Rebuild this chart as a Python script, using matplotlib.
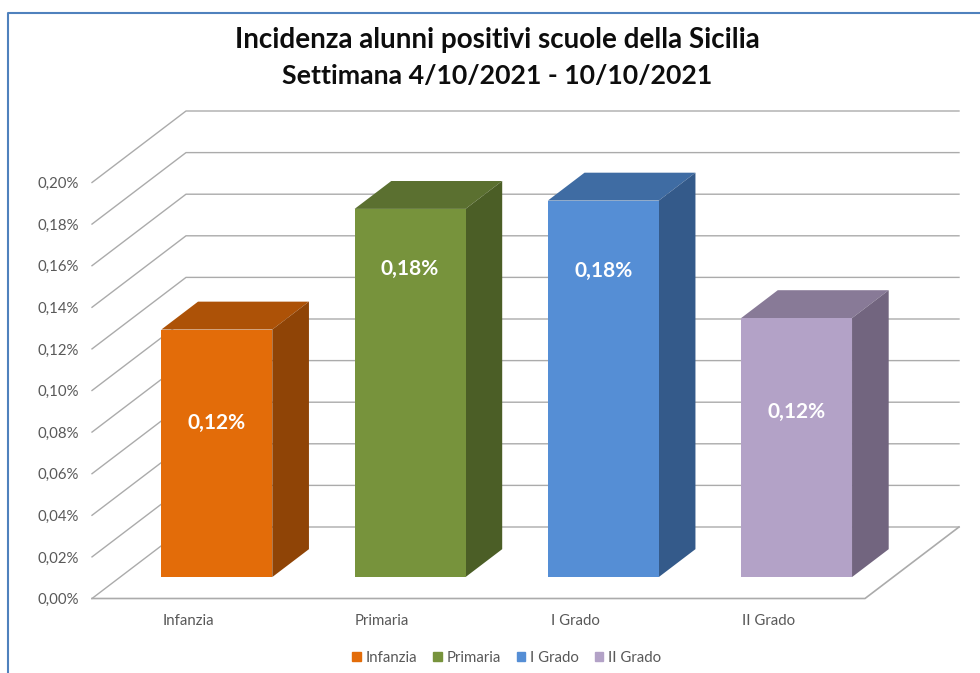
import matplotlib as mpl
mpl.use('Agg')

import matplotlib.pyplot as plt
from matplotlib.lines import Line2D
from matplotlib.patches import Patch

categories = ['Infanzia', 'Primaria', 'I Grado', 'II Grado']
values = [0.119, 0.177, 0.181, 0.1245]
value_labels = ['0,12%', '0,18%', '0,18%', '0,12%']
y_ticks = [0.00, 0.02, 0.04, 0.06, 0.08, 0.10, 0.12, 0.14, 0.16, 0.18, 0.20]
y_tick_labels = ['0,00%', '0,02%', '0,04%', '0,06%', '0,08%', '0,10%',
                 '0,12%', '0,14%', '0,16%', '0,18%', '0,20%']

front_colors = ['#E36C09', '#77933C', '#558ED5', '#B3A2C7']
top_colors = ['#AD5207', '#5B7030', '#3F6CA3', '#887A97']
side_colors = ['#8F4406', '#4B5E26', '#345A8A', '#72657F']

plt.rcParams['font.family'] = ['Lato', 'DejaVu Sans']

W, H = 980, 673
fig = plt.figure(figsize=(W / 100, H / 100), dpi=100)
ax = fig.add_axes([92 / W, (H - 598.5) / H, 868 / W, 487.5 / H])

# oblique projection: depth 0 is the front of the floor, depth 1 the back wall
depth_x = 94 / 193.25
depth_y = 0.2 * 71.5 / 416
ax.set_xlim(0, 868 / 193.25)
ax.set_ylim(0, 0.2 + depth_y)
n = len(categories)


def proj(x, v, d):
    return x + d * depth_x, v + d * depth_y


def face(points, color, z):
    xs, ys = zip(*[proj(*p) for p in points])
    ax.fill(xs, ys, color=color, lw=0, zorder=z, clip_on=False)


# walls and floor
grid = '#ababab'
for t in y_ticks:
    x0, y0 = proj(0, t, 0)
    x1, y1 = proj(0, t, 1)
    x2, y2 = proj(n, t, 1)
    ax.plot([x0, x1, x2], [y0, y1, y2], color=grid, lw=1.0, zorder=1, clip_on=False)
x0, y0 = proj(n, 0, 0)
x1, y1 = proj(n, 0, 1)
ax.plot([0, x0, x1], [0, y0, y1], color=grid, lw=1.2, zorder=1, clip_on=False)

# bars
gap = 0.213
d0, d1 = 0.30, 0.69
label_drop = [0.045, 0.029, 0.034, 0.045]
for i, v in enumerate(values):
    l, r = i + gap, i + 1 - gap
    face([(l, 0, d0), (r, 0, d0), (r, v, d0), (l, v, d0)], front_colors[i], 4)
    face([(l, v, d0), (r, v, d0), (r, v, d1), (l, v, d1)], top_colors[i], 3)
    face([(r, 0, d0), (r, 0, d1), (r, v, d1), (r, v, d0)], side_colors[i], 3)
    tx, ty = proj(i + 0.5, v - label_drop[i], d0)
    ax.text(tx, ty, value_labels[i], color='white', fontsize=15, fontweight='bold',
            ha='center', va='center', zorder=5)

ax.set_yticks(y_ticks)
ax.set_yticklabels(y_tick_labels)
ax.set_xticks([i + 0.5 for i in range(n)])
ax.set_xticklabels(categories)
ax.tick_params(axis='y', length=0, pad=9.2, labelsize=10.8, labelcolor='#595959')
ax.tick_params(axis='x', length=0, pad=11.4, labelsize=10.8, labelcolor='#595959')
for s in ax.spines.values():
    s.set_visible(False)
ax.patch.set_alpha(0)

fig.text(497 / W, (H - 40) / H, 'Incidenza alunni positivi scuole della Sicilia',
         ha='center', va='center', fontsize=20, fontweight='bold', color='#0d0d0d')
fig.text(497 / W, (H - 76) / H, 'Settimana 4/10/2021 - 10/10/2021',
         ha='center', va='center', fontsize=19.2, fontweight='bold', color='#0d0d0d')

handles = [Patch(color=c, label=k) for c, k in zip(front_colors, categories)]
fig.legend(handles=handles, ncol=4, loc='center', bbox_to_anchor=(507 / W, (H - 658) / H),
           frameon=False, fontsize=10.8, labelcolor='#595959', handlelength=0.55, handleheight=0.55,
           handletextpad=0.35, columnspacing=1.05)

# chart frame, cut off by the image on the right and at the bottom
frame = '#4F81BD'
fig.add_artist(Line2D([8 / W, 8 / W, 1], [0, (H - 13) / H, (H - 13) / H], color=frame, lw=1.5))

fig.savefig('out.png', dpi=100)
